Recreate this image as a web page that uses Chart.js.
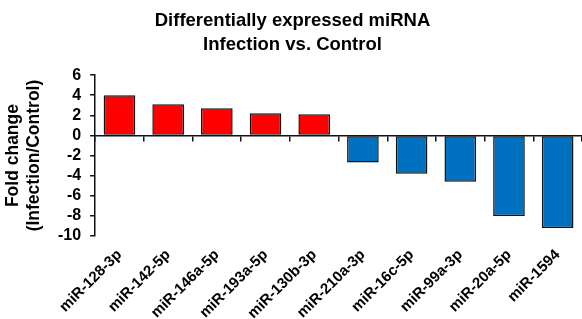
<!DOCTYPE html>
<html>
<head>
<meta charset="utf-8">
<script src="https://cdn.jsdelivr.net/npm/chart.js@4/dist/chart.umd.min.js"></script>
<style>
  html, body { margin: 0; padding: 0; background: #fff; }
  #wrap { width: 582px; height: 319px; }
</style>
</head>
<body>
<div id="wrap"><canvas id="c"></canvas></div>
<script>
// data
const mirnas = ['miR-128-3p', 'miR-142-5p', 'miR-146a-5p', 'miR-193a-5p', 'miR-130b-3p',
                'miR-210a-3p', 'miR-16c-5p', 'miR-99a-3p', 'miR-20a-5p', 'miR-1594'];
const foldChange = [4.0, 3.1, 2.7, 2.2, 2.1, -2.7, -3.8, -4.6, -8.0, -9.2];
const upColor = '#FF0000';
const downColor = '#0070C0';

const FONT = "'Liberation Sans', Arial, sans-serif";

const ctx = document.getElementById('c');
new Chart(ctx, {
  type: 'bar',
  data: {
    labels: mirnas,
    datasets: [{
      data: foldChange,
      backgroundColor: foldChange.map(v => v >= 0 ? upColor : downColor),
      borderColor: '#111',
      borderWidth: 1.5,
      borderSkipped: false,
      barPercentage: 0.65,
      categoryPercentage: 1
    }]
  },
  options: {
    responsive: true,
    maintainAspectRatio: false,
    animation: false,
    layout: { padding: { left: 3, right: 0, top: 4, bottom: 0 } },
    plugins: {
      legend: { display: false },
      tooltip: { enabled: false },
      title: {
        display: true,
        text: ['Differentially expressed miRNA', 'Infection vs. Control'],
        color: '#000',
        font: { family: FONT, size: 18.5, weight: 'bold', lineHeight: 1.3 },
        padding: { top: 5, bottom: 18 }
      }
    },
    scales: {
      x: {
        grid: { display: false },
        border: { display: false },
        ticks: {
          color: '#000',
          font: { family: FONT, size: 15, weight: 'bold' },
          maxRotation: 45,
          minRotation: 45,
          autoSkip: false,
          padding: 2
        },
        // keep the label band the same height as in the figure (labels run off the bottom)
        afterFit(scale) { scale.height = 83; }
      },
      // zero line with the tick marks between categories
      x0: {
        type: 'category',
        labels: mirnas,
        position: { y: 0 },
        grid: { offset: true, drawOnChartArea: false, drawTicks: true, tickLength: 5, color: '#111', lineWidth: 1.5 },
        border: { color: '#111', width: 1.5 },
        ticks: { display: false }
      },
      y: {
        min: -10,
        max: 6,
        ticks: {
          stepSize: 2,
          autoSkip: false,
          color: '#000',
          font: { family: FONT, size: 16, weight: 'bold' },
          padding: 9
        },
        grid: { drawOnChartArea: false, tickLength: 5, color: '#111', lineWidth: 1.5 },
        border: { color: '#111', width: 1.5 },
        title: {
          display: true,
          text: ['Fold change', '(Infection/Control)'],
          color: '#000',
          font: { family: FONT, size: 17.5, weight: 'bold', lineHeight: 1.2 },
          padding: { top: 0, bottom: 4 }
        }
      }
    }
  }
});
</script>
</body>
</html>
